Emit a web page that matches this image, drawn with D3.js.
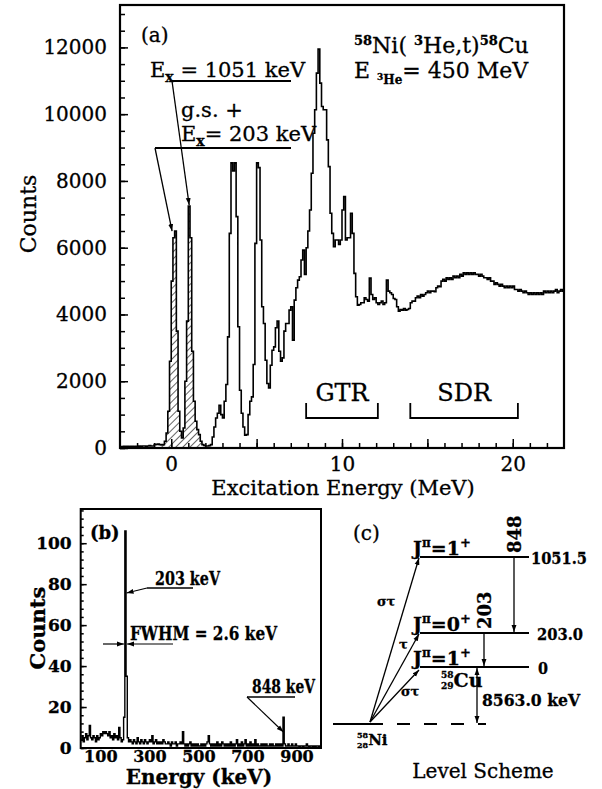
<!DOCTYPE html>
<html>
<head>
<meta charset="utf-8">
<script src="https://cdn.jsdelivr.net/npm/d3@7"></script>
<style>
  body { margin: 0; background: #fff; }
  svg { display: block; font-family: "DejaVu Serif", serif; }
  svg text { stroke: #000; stroke-width: 0.3px; }
</style>
</head>
<body>
<svg id="fig" width="602" height="789"></svg>
<script>
// ---- panel (a): 58Ni(3He,t)58Cu spectrum, 0.1 MeV bins starting at -3 MeV
const aBinStart = -3.0;
const aBinWidth = 0.1;
const aCounts = [
  // -3 MeV
  40, 40, 50, 40, 50, 40, 50, 50, 40, 50,
  // -2
  50, 60, 50, 60, 60, 50, 60, 70, 60, 60,
  // -1
  100, 110, 120, 100, 90, 100, 200, 450, 1100, 2600,
  // 0
  5000, 6300, 6500, 3500, 1100, 500, 300, 600, 2000, 3800,
  // 1
  7250, 6300, 2900, 1400, 800, 550, 400, 200, 100, 80,
  // 2
  60, 60, 70, 100, 330, 630, 900, 1040, 1280, 1000,
  // 3
  900, 1400, 1900, 3330, 6430, 8540, 8300, 8540, 6930, 3630,
  // 4
  1730, 1040, 630, 380, 400, 1000, 1400, 1530, 2500, 6130,
  // 5
  8540, 8400, 6230, 4230, 3730, 2630, 1930, 1800, 2480, 2930,
  // 6
  3030, 3600, 3800, 2900, 2600, 2700, 3500, 3730, 3730, 4130,
  // 7
  4230, 3230, 4430, 4800, 5030, 5130, 5630, 5930, 5200, 6000,
  // 8
  6500, 7130, 8230, 9430, 10130, 11230, 11950, 10930, 10230, 10130,
  // 9
  10130, 9230, 8430, 7030, 6430, 6030, 6230, 6230, 6100, 6230,
  // 10
  7130, 7530, 6230, 6300, 6300, 7030, 6430, 5230, 4530, 4280,
  // 11
  4300, 4350, 4350, 4500, 4450, 4400, 5090, 4600, 4450, 4500,
  // 12
  4350, 4300, 4350, 4400, 4300, 4350, 5030, 4700, 4650, 4600,
  // 13
  4480, 4450, 4230, 4100, 4150, 4130, 4180, 4130, 4150, 4180,
  // 14
  4350, 4400, 4400, 4500, 4550, 4500, 4600, 4550, 4600, 4650,
  // 15
  4700, 4650, 4700, 4700, 4680, 4800, 4850, 4830, 5000, 5050,
  // 16
  5000, 5100, 5050, 5100, 5050, 5150, 5100, 5150, 5100, 5200,
  // 17
  5150, 5250, 5200, 5250, 5200, 5250, 5200, 5250, 5200, 5200,
  // 18
  5150, 5200, 5150, 5100, 5100, 5050, 5100, 5000, 5000, 4900,
  // 19
  4950, 4900, 4850, 4900, 4850, 4800, 4850, 4800, 4850, 4800,
  // 20
  4850, 4750, 4750, 4700, 4750, 4700, 4650, 4700, 4650, 4600,
  // 21
  4650, 4600, 4650, 4600, 4650, 4600, 4650, 4600, 4700, 4650,
  // 22
  4700, 4650, 4700, 4650, 4700, 4750, 4650, 4700, 4750, 4700
];
const aHatchRange = [-0.6, 1.9];      // g.s. + 203 keV and 1051 keV peaks
const aYTicks = [0, 2000, 4000, 6000, 8000, 10000, 12000];
const aXTicks = [0, 10, 20];
const gtrRange = [7.9, 12.1];
const sdrRange = [14.0, 20.3];

// ---- panel (b): gamma spectrum, 5 keV bins starting at 20 keV
const bBinStart = 20;
const bBinWidth = 5;
const bCounts = [
  4, 6, 3, 5, 7, 4, 6, 11, 5, 4,
  6, 5, 3, 6, 4, 5, 7, 6, 8, 7,
  8, 7, 6, 8, 5, 6, 4, 7, 5, 6,
  4, 10, 5, 3, 4, 15, 106, 35, 5, 3,
  4, 3, 2, 4, 3, 2, 5, 3, 2, 4,
  3, 2, 4, 3, 2, 3, 4, 3, 6, 2,
  3, 4, 2, 3, 2, 3, 2, 4, 3, 2,
  2, 3, 2, 1, 3, 2, 2, 3, 1, 2,
  2, 3, 2, 8, 2, 1, 2, 1, 2, 3,
  1, 2, 1, 2, 1, 2, 1, 1, 2, 1,
  2, 1, 2, 3, 6, 2, 1, 2, 1, 2,
  1, 3, 1, 2, 1, 3, 2, 1, 2, 1,
  2, 1, 3, 1, 2, 1, 2, 4, 1, 2,
  1, 3, 1, 2, 4, 1, 2, 1, 3, 1,
  2, 1, 4, 1, 2, 1, 1, 2, 1, 2,
  1, 2, 1, 1, 2, 1, 2, 1, 1, 2,
  1, 2, 1, 2, 1, 15, 2, 1, 1, 2,
  1, 1, 2, 1, 1, 2, 1, 1, 0, 1,
  1, 0, 1, 1, 2, 1, 0, 1, 1, 0,
  1, 0, 1, 1, 0, 1
];
const bYTicks = [0, 20, 40, 60, 80, 100];
const bXTicks = [100, 300, 500, 700, 900];

// ---- panel (c): level scheme of 58Cu
const levelNames = ["1051.5", "203.0", "0"];
const levelSpins = ["1", "0", "1"];
const gammaLines = ["848", "203"];
const transitionLabels = ["στ", "τ", "στ"];
const qLabel = "8563.0 keV";

const svg = d3.select("#fig");
const defs = svg.append("defs");

defs.append("marker")
  .attr("id", "arrow")
  .attr("viewBox", "0 0 10 10")
  .attr("refX", 10).attr("refY", 5)
  .attr("markerWidth", 7).attr("markerHeight", 7)
  .attr("markerUnits", "userSpaceOnUse")
  .attr("orient", "auto-start-reverse")
  .append("path").attr("d", "M0,1.5L10,5L0,8.5Z").attr("fill", "#000");

defs.append("pattern")
  .attr("id", "hatch")
  .attr("patternUnits", "userSpaceOnUse")
  .attr("width", 5).attr("height", 5)
  .attr("patternTransform", "rotate(45)")
  .append("line")
  .attr("x1", 0).attr("y1", 0).attr("x2", 0).attr("y2", 5)
  .attr("stroke", "#000").attr("stroke-width", 1.2);

function styleAxis(g, size, weight) {
  g.attr("font-family", null).attr("font-size", null);
  g.select(".domain").remove();
  g.selectAll("line").attr("stroke", "#000").attr("stroke-width", 1.5);
  g.selectAll("text").attr("font-size", size).attr("font-weight", weight).attr("fill", "#000");
}

function stepPoints(start, width, values) {
  const pts = values.map((c, i) => [start + i * width, c]);
  pts.push([start + values.length * width, values[values.length - 1]]);
  return pts;
}

function line(x1, y1, x2, y2, arrow, w) {
  const l = svg.append("line")
    .attr("x1", x1).attr("y1", y1).attr("x2", x2).attr("y2", y2)
    .attr("stroke", "#000").attr("stroke-width", w || 1.5);
  if (arrow === "end" || arrow === "both") l.attr("marker-end", "url(#arrow)");
  if (arrow === "start" || arrow === "both") l.attr("marker-start", "url(#arrow)");
  return l;
}

// =================== panel (a)
const xA = d3.scaleLinear().domain([-3, 23]).range([120, 564]);
const yA = d3.scaleLinear().domain([0, 13270]).range([448, 5]);

const aPts = stepPoints(aBinStart, aBinWidth, aCounts);
const hatchPts = aPts.filter(p => p[0] >= aHatchRange[0] - 1e-6 && p[0] <= aHatchRange[1] + 1e-6);

svg.append("path")
  .datum(hatchPts)
  .attr("fill", "url(#hatch)")
  .attr("d", d3.area().curve(d3.curveStepAfter)
    .x(d => xA(d[0])).y0(yA(0)).y1(d => yA(d[1])));

svg.append("path")
  .datum(aPts)
  .attr("fill", "none").attr("stroke", "#000").attr("stroke-width", 1.6)
  .attr("stroke-linejoin", "miter")
  .attr("d", d3.line().curve(d3.curveStepAfter).x(d => xA(d[0])).y(d => yA(d[1])));

const ayMinor = svg.append("g").attr("transform", `translate(${xA(-3)},0)`)
  .call(d3.axisLeft(yA).tickValues(d3.range(0, 13270, 500)).tickSize(-5).tickFormat(""));
styleAxis(ayMinor, 20, "normal");
const ayMajor = svg.append("g").attr("transform", `translate(${xA(-3)},0)`)
  .call(d3.axisLeft(yA).tickValues(aYTicks).tickSize(-8).tickPadding(13).tickFormat(d3.format("d")));
styleAxis(ayMajor, 20, "normal");

const axMinor = svg.append("g").attr("transform", `translate(0,${yA(0)})`)
  .call(d3.axisBottom(xA).tickValues(d3.range(-2, 23, 1)).tickSize(-5).tickFormat(""));
styleAxis(axMinor, 20, "normal");
const axMid = svg.append("g").attr("transform", `translate(0,${yA(0)})`)
  .call(d3.axisBottom(xA).tickValues([5, 15]).tickSize(-9).tickFormat(""));
styleAxis(axMid, 20, "normal");
const axMajor = svg.append("g").attr("transform", `translate(0,${yA(0)})`)
  .call(d3.axisBottom(xA).tickValues(aXTicks).tickSize(-9).tickPadding(9));
styleAxis(axMajor, 20, "normal");

svg.append("rect")
  .attr("x", xA(-3)).attr("y", yA(13270))
  .attr("width", xA(23) - xA(-3)).attr("height", yA(0) - yA(13270))
  .attr("fill", "none").attr("stroke", "#000").attr("stroke-width", 2.2);

svg.append("text").attr("x", 28).attr("y", 214)
  .attr("transform", "rotate(-90,28,214)")
  .attr("text-anchor", "middle").attr("dominant-baseline", "central")
  .attr("font-size", 22).text("Counts");

svg.append("text").attr("x", 343).attr("y", 495)
  .attr("text-anchor", "middle").attr("font-size", 21)
  .text("Excitation Energy (MeV)");

svg.append("text").attr("x", 141).attr("y", 42).attr("font-size", 20).text("(a)");

// Ex = 1051 keV
let t = svg.append("text").attr("x", 150).attr("y", 77).attr("font-size", 21);
t.append("tspan").text("E");
t.append("tspan").attr("font-size", 14).attr("font-weight", "bold").attr("dy", 5).text("x");
t.append("tspan").attr("dy", -5).text(" = 1051 keV");
line(172, 81, 291, 81, null, 1.8);
line(172, 81, xA(1.05), yA(7250) - 1, "end", 1.3);

svg.append("text").attr("x", 181).attr("y", 117).attr("font-size", 21).text("g.s. +");
t = svg.append("text").attr("x", 181).attr("y", 141).attr("font-size", 21);
t.append("tspan").text("E");
t.append("tspan").attr("font-size", 14).attr("font-weight", "bold").attr("dy", 5).text("x");
t.append("tspan").attr("dy", -5).text("= 203 keV");
line(155, 148, 291, 148, null, 1.8);
line(155, 148, xA(0.05), yA(6500), "end", 1.3);

// reaction label
t = svg.append("text").attr("x", 354).attr("y", 53).attr("font-size", 22);
t.append("tspan").attr("font-size", 13).attr("font-weight", "bold").attr("dy", -8).text("58");
t.append("tspan").attr("dy", 8).text("Ni( ");
t.append("tspan").attr("font-size", 13).attr("font-weight", "bold").attr("dy", -8).text("3");
t.append("tspan").attr("dy", 8).text("He,t)");
t.append("tspan").attr("font-size", 13).attr("font-weight", "bold").attr("dy", -8).text("58");
t.append("tspan").attr("dy", 8).text("Cu");

t = svg.append("text").attr("x", 354).attr("y", 78).attr("font-size", 22);
t.append("tspan").text("E ");
t.append("tspan").attr("font-size", 9).attr("font-weight", "bold").attr("dy", 2).text("3");
t.append("tspan").attr("font-size", 12).attr("font-weight", "bold").attr("dy", 4).text("He");
t.append("tspan").attr("dy", -6).text("= 450 MeV");

// GTR / SDR brackets
[[gtrRange, "GTR"], [sdrRange, "SDR"]].forEach(([r, name]) => {
  const x0 = xA(r[0]), x1 = xA(r[1]);
  svg.append("path")
    .attr("d", `M${x0},403V418H${x1}V403`)
    .attr("fill", "none").attr("stroke", "#000").attr("stroke-width", 1.8);
  svg.append("text").attr("x", (x0 + x1) / 2).attr("y", 401)
    .attr("text-anchor", "middle").attr("font-size", 24).text(name);
});

// =================== panel (b)
const xB = d3.scaleLinear().domain([20, 1000]).range([80.7, 321]);
const yB = d3.scaleLinear().domain([0, 116.7]).range([748, 509]);

svg.append("path")
  .datum(stepPoints(bBinStart, bBinWidth, bCounts))
  .attr("fill", "none").attr("stroke", "#000").attr("stroke-width", 1.4)
  .attr("d", d3.line().curve(d3.curveStepAfter).x(d => xB(d[0])).y(d => yB(d[1])));

const byMinor = svg.append("g").attr("transform", `translate(${xB(20)},0)`)
  .call(d3.axisLeft(yB).tickValues(d3.range(0, 117, 4)).tickSize(-3).tickFormat(""));
styleAxis(byMinor, 17, "bold");
const byMajor = svg.append("g").attr("transform", `translate(${xB(20)},0)`)
  .call(d3.axisLeft(yB).tickValues(bYTicks).tickSize(-6).tickPadding(9));
styleAxis(byMajor, 17, "bold");
const bxAxis = svg.append("g").attr("transform", `translate(0,${yB(0)})`)
  .call(d3.axisBottom(xB).tickValues(bXTicks).tickSize(0).tickPadding(3));
styleAxis(bxAxis, 16, "bold");

svg.append("rect")
  .attr("x", xB(20)).attr("y", yB(116.7))
  .attr("width", xB(1000) - xB(20)).attr("height", yB(0) - yB(116.7))
  .attr("fill", "none").attr("stroke", "#000").attr("stroke-width", 2);

svg.append("text").attr("x", 37).attr("y", 628)
  .attr("transform", "rotate(-90,37,628)")
  .attr("text-anchor", "middle").attr("dominant-baseline", "central")
  .attr("font-size", 21).attr("font-weight", "bold").text("Counts");
svg.append("text").attr("x", 199).attr("y", 784)
  .attr("text-anchor", "middle").attr("font-size", 20).attr("font-weight", "bold")
  .text("Energy (keV)");
svg.append("text").attr("x", 90).attr("y", 539).attr("font-size", 18).attr("font-weight", "bold").text("(b)");

function fitText(x, y, size, len, str) {
  return svg.append("text").attr("x", x).attr("y", y)
    .attr("font-size", size).attr("font-weight", "bold")
    .attr("textLength", len).attr("lengthAdjust", "spacingAndGlyphs").text(str);
}

fitText(155, 585, 18, 65, "203 keV");
line(147, 588, 193, 588, null, 1.5);
line(147, 588, xB(203) + 1, 593, "end", 1.2);

fitText(130, 640, 18, 147, "FWHM = 2.6 keV");
line(103, 644, xB(200) - 1, 644, "end", 1.2);
line(xB(205) + 1, 644, 173, 644, "start", 1.2);

fitText(252, 693, 18, 63, "848 keV");
line(247, 697, 295, 697, null, 1.5);
line(247, 697, xB(847), 732, "end", 1.2);

// =================== panel (c)
const levelY = d3.scaleOrdinal().domain(levelNames).range([557, 633, 667]);
const groundY = 724;
const lvX0 = 420, lvX1 = 529;
const levelLabelX = [531, 537, 538];
const levelLabelLen = [56, 46, 10];

levelNames.forEach((name, i) => {
  const y = levelY(name);
  line(lvX0, y, lvX1, y, null, 1.8);
  fitText(levelLabelX[i], y + 7, 17, levelLabelLen[i], name);
  const s = svg.append("text").attr("x", 413).attr("y", y - 2)
    .attr("font-size", 19).attr("font-weight", "bold");
  s.append("tspan").text("J");
  s.append("tspan").attr("font-size", 12).attr("dy", -8).text("π");
  s.append("tspan").attr("dy", 8).text("=" + levelSpins[i]);
  s.append("tspan").attr("font-size", 13).attr("dy", -8).text("+");
});

// gamma transitions
[[gammaLines[0], 514, levelNames[0], levelNames[1]],
 [gammaLines[1], 484, levelNames[1], levelNames[2]]].forEach(([lab, x, from, to]) => {
  line(x, levelY(from), x, levelY(to) - 1, "end", 1.3);
  svg.append("text").attr("x", x).attr("y", levelY(from) - 4)
    .attr("transform", `rotate(-90,${x},${levelY(from) - 4})`)
    .attr("dominant-baseline", "central")
    .attr("font-size", 18).attr("font-weight", "bold").text(lab);
});

// ground state of 58Ni
line(333, groundY, 383, groundY, null, 1.8);
line(397, groundY, 486, groundY, null, 1.8).attr("stroke-dasharray", "13,14");
line(477, levelY("0") + 1, 477, groundY - 1, "both", 1.3);
fitText(482, 706, 17, 98, qLabel);

t = svg.append("text").attr("x", 357).attr("y", 745).attr("font-size", 15).attr("font-weight", "bold");
t.append("tspan").attr("font-size", 8).attr("dy", -7).text("58");
t.append("tspan").attr("font-size", 8).attr("x", 357).attr("dy", 10).text("28");
t.append("tspan").attr("dy", -3).text("Ni");

t = svg.append("text").attr("x", 441).attr("y", 687).attr("font-size", 19).attr("font-weight", "bold");
t.append("tspan").attr("font-size", 9).attr("dy", -9).text("58");
t.append("tspan").attr("font-size", 9).attr("x", 441).attr("dy", 11).text("29");
t.append("tspan").attr("dy", -2).text("Cu");

// transitions from 58Ni
const origin = [370, 722];
const tLabelPos = [[377, 606], [399, 649], [401, 696]];
levelNames.forEach((name, i) => {
  line(origin[0], origin[1], 419, levelY(name) + (i === 2 ? 3 : 1), "end", 1.3);
  svg.append("text").attr("x", tLabelPos[i][0]).attr("y", tLabelPos[i][1])
    .attr("font-size", 13).attr("font-weight", "bold").text(transitionLabels[i]);
});

svg.append("text").attr("x", 353).attr("y", 540).attr("font-size", 20).text("(c)");
svg.append("text").attr("x", 483).attr("y", 778).attr("text-anchor", "middle")
  .attr("font-size", 20).text("Level Scheme");
</script>
</body>
</html>
